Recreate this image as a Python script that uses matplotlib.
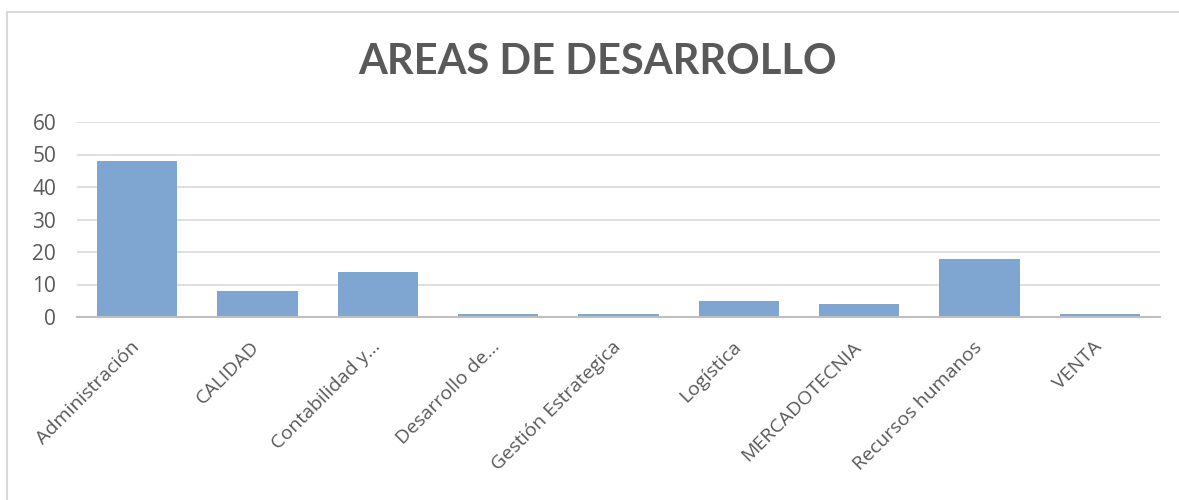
import matplotlib
matplotlib.use("Agg")
import matplotlib.pyplot as plt
from matplotlib.patches import Rectangle
import matplotlib.transforms as mtransforms

categories = ["Administración", "CALIDAD", "Contabilidad y…", "Desarrollo de…",
              "Gestión Estrategica", "Logística", "MERCADOTECNIA",
              "Recursos humanos", "VENTA"]
values = [48, 8, 14, 1, 1, 5, 4, 18, 1]
yticks = [0, 10, 20, 30, 40, 50, 60]
title = "AREAS DE DESARROLLO"

W, H = 1179, 500
plt.rcParams["font.family"] = ["Open Sans", "DejaVu Sans"]
fig = plt.figure(figsize=(W / 100, H / 100), dpi=100)

left, right = 77 / W, 1160 / W
bottom, top = (H - 317) / H, (H - 122) / H
ax = fig.add_axes([left, bottom, right - left, top - bottom])

x = range(len(categories))
ax.bar(x, values, width=0.67, color="#7EA6D1", zorder=3)
ax.set_xlim(-0.5, len(categories) - 0.5)
ax.set_ylim(0, 60)
ax.set_yticks(yticks)
ax.set_yticklabels([str(v) for v in yticks], fontsize=15, color="#595959")
ax.tick_params(axis="y", length=0, pad=15)
ax.tick_params(axis="x", length=0, pad=15)

ax.set_xticks(list(x))
ax.set_xticklabels(categories, fontsize=14, color="#595959",
                   rotation=45, ha="right", va="top", rotation_mode="anchor")
shift = mtransforms.ScaledTranslation(-7 / 100, 0, fig.dpi_scale_trans)
for lbl in ax.get_xticklabels():
    lbl.set_transform(lbl.get_transform() + shift)

ax.grid(axis="y", color="#D9D9D9", linewidth=1.2, zorder=0)
for side in ["top", "right", "left"]:
    ax.spines[side].set_visible(False)
ax.spines["bottom"].set_color("#BFBFBF")
ax.spines["bottom"].set_linewidth(1.5)
ax.spines["bottom"].set_zorder(4)

fig.text(598 / W, (H - 62) / H, title, fontsize=30, fontweight="bold",
         color="#595959", ha="center", va="center", family=["Lato", "DejaVu Sans"])

# chart-area frame (open on the right and bottom)
fig.patches.append(Rectangle((7.5 / W, -0.1), 1.2, (H - 11.5) / H + 0.1,
                             transform=fig.transFigure, fill=False,
                             edgecolor="#D9D9D9", linewidth=1.5))

fig.savefig("out.png", dpi=100, facecolor="white")
